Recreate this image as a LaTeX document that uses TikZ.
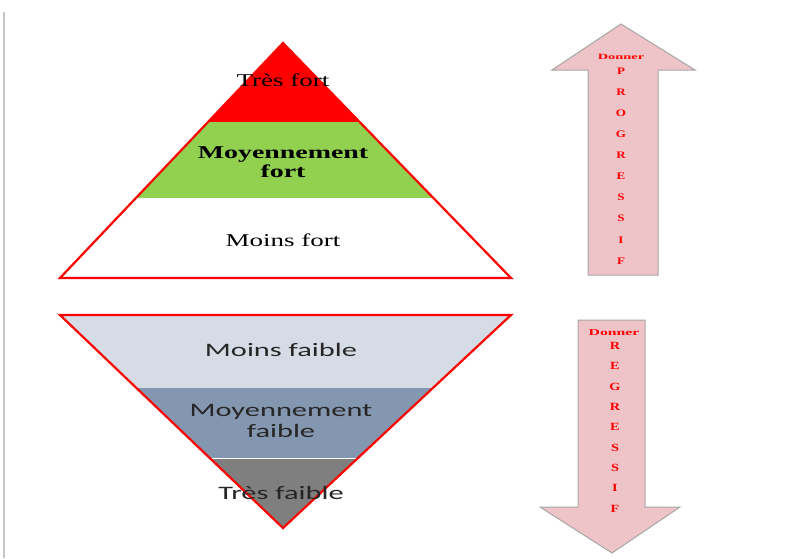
\documentclass[tikz,border=0pt]{standalone}
\usepackage{fontspec}
\setmainfont{Liberation Serif}
\newfontfamily\calib{Carlito}
\begin{document}
\begin{tikzpicture}[x=1pt,y=-1pt,
  outline/.style={draw=red, line width=2.2pt, line join=miter},
  toptext/.style={font=\fontsize{18}{20}\selectfont, text=black, align=center, inner sep=0pt},
  bottext/.style={font=\calib\fontsize{19}{22}\selectfont, text=black!85, align=center, inner sep=0pt},
  arrowbody/.style={fill=arrowpink, draw=gray!70, line width=1pt, line join=miter},
  letter/.style={font=\bfseries\fontsize{10}{10}\selectfont, text=red, inner sep=0pt},
  smallword/.style={font=\bfseries\fontsize{8}{8}\selectfont, text=red, inner sep=0pt}]
\definecolor{arrowpink}{HTML}{EFC4C8}
\definecolor{pgreen}{HTML}{92D050}
\definecolor{plight}{HTML}{D6DCE5}
\definecolor{pmid}{HTML}{8497B0}
\definecolor{pdark}{HTML}{7F7F7F}
\useasboundingbox (0,0) rectangle (790,558);
\fill[white] (0,0) rectangle (790,558);
% left gray line
\draw[gray!45, line width=1.5pt] (4,12) -- (4,558);

% ---------- top pyramid ----------
\coordinate (tA) at (283,43);
\coordinate (tL) at (60,278);
\coordinate (tR) at (511,278);
\begin{scope}
  \clip (tA) -- (tL) -- (tR) -- cycle;
  \fill[red] (40,30) rectangle (530,122);
  \fill[pgreen] (40,122) rectangle (530,198);
  \fill[white] (40,198) rectangle (530,280);
\end{scope}
\draw[outline] (tA) -- (tL) -- (tR) -- cycle;
\node[toptext] (tf) at (283,80) {\scalebox{1.5}[1]{Très fort}};
\node[toptext] (mf) at (283,162) {\scalebox{1.55}[1]{\bfseries Moyennement}\\[-1pt]\scalebox{1.55}[1]{\bfseries fort}};
\node[toptext] (lf) at (283,240) {\scalebox{1.5}[1]{Moins fort}};

% ---------- bottom pyramid ----------
\coordinate (bL) at (60,315);
\coordinate (bR) at (511,315);
\coordinate (bA) at (283,528);
\begin{scope}
  \clip (62,316) -- (509,316) -- (283,527) -- cycle;
  \fill[plight] (40,300) rectangle (530,388);
  \fill[pmid] (40,388) rectangle (530,458);
  \fill[pdark] (40,459) rectangle (530,540);
  \draw[white, line width=0.8pt] (40,458.5) -- (530,458.5);
\end{scope}
\draw[outline] (bL) -- (bR) -- (bA) -- cycle;
\node[bottext] (lfa) at (281,350) {\scalebox{1.6}[1]{Moins faible}};
\node[bottext] (mfa) at (281,421) {\scalebox{1.6}[1]{Moyennement}\\[-1pt]\scalebox{1.6}[1]{faible}};
\node[bottext] (tfa) at (281,493) {\scalebox{1.6}[1]{Très faible}};

% ---------- up arrow ----------
\draw[arrowbody] (621,24) -- (695,70) -- (658,70) -- (658,275) -- (588,275) -- (588,70) -- (552,70) -- cycle;
\node[smallword] (don1) at (621,57) {\scalebox{1.8}[1]{Donner}};
\foreach \l [count=\i] in {P,R,O,G,R,E,S,S,I,F}
  \node[letter] (up\i) at (621,{71+(\i-1)*21.1}) {\scalebox{1.3}[1]{\l}};

% ---------- down arrow ----------
\draw[arrowbody] (578,320) -- (645,320) -- (645,507) -- (680,507) -- (612,553) -- (540,507) -- (578,507) -- cycle;
\node[smallword, font=\bfseries\fontsize{9}{9}\selectfont] (don2) at (614,333) {\scalebox{1.75}[1]{Donner}};
\foreach \l [count=\i] in {R,E,G,R,E,S,S,I,F}
  \node[letter, font=\bfseries\fontsize{11}{11}\selectfont] (dn\i) at (615,{346+(\i-1)*20.3}) {\scalebox{1.3}[1]{\l}};
\end{tikzpicture}
\end{document}
